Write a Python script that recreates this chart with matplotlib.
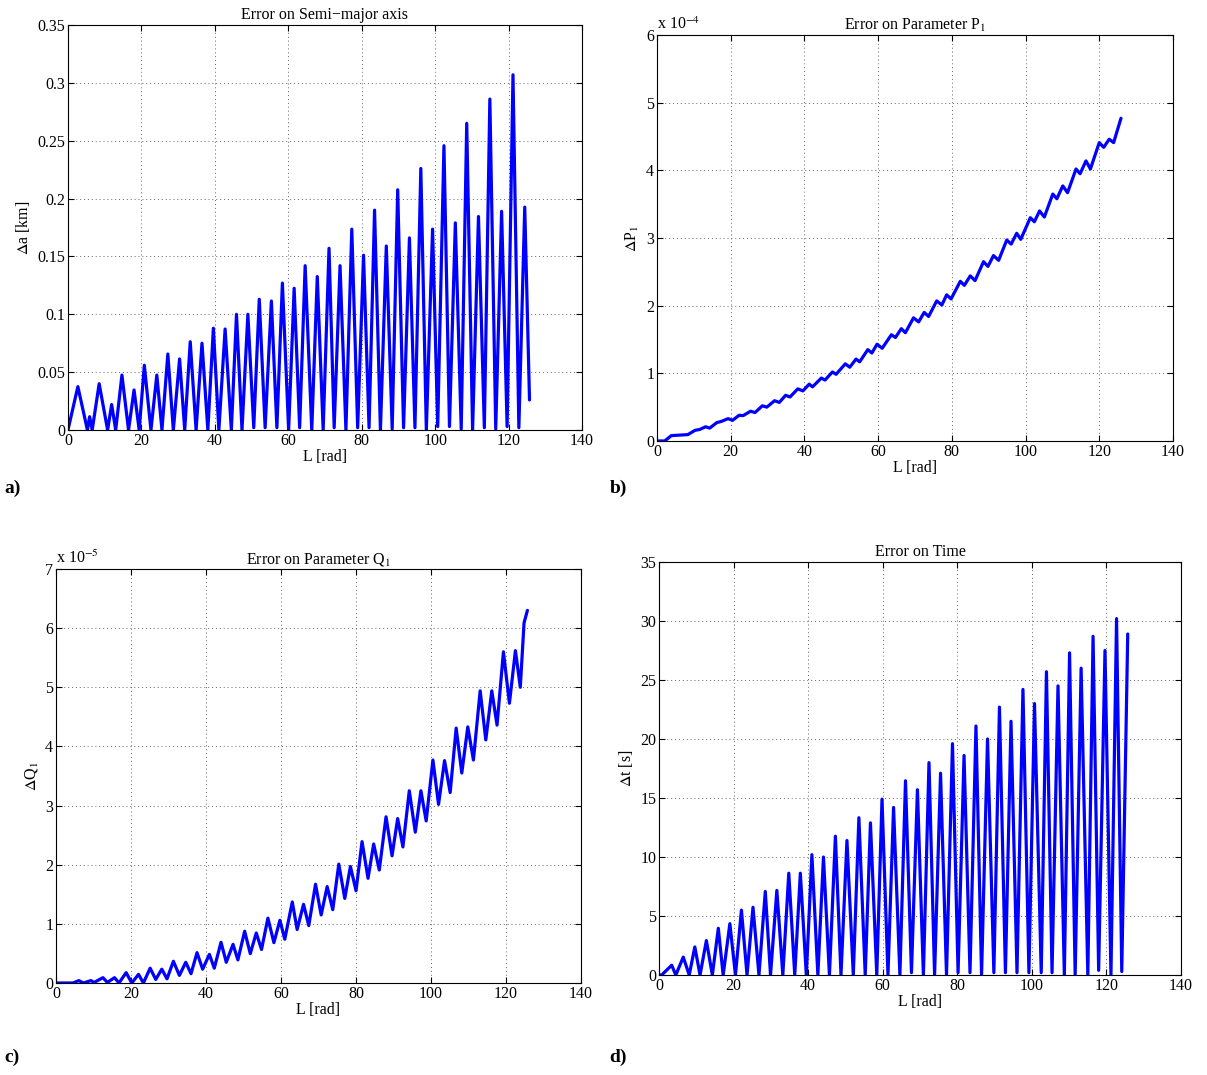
import numpy as np
import matplotlib
matplotlib.use("Agg")
import matplotlib.pyplot as plt
from matplotlib.ticker import FuncFormatter

plt.rcParams["font.family"] = ["Liberation Serif", "DejaVu Serif"]
plt.rcParams["mathtext.fontset"] = "stix"
plt.rcParams["font.size"] = 11.5

# a) error on semi-major axis [km], vertices (peaks / troughs)
a_L = [0, 2.7, 5.3, 5.9, 6.6, 8.5, 10.8, 11.9, 13.0, 14.7, 16.5, 18.0, 19.4, 20.8, 22.6,
       24.2, 25.6, 27.2, 28.7, 30.4, 31.8, 33.3, 34.9, 36.5, 38.1, 39.6, 41.1, 42.8, 44.5,
       45.9, 47.4, 49.0, 50.6, 52.1, 53.7, 55.4, 56.9, 58.4, 60.1, 61.6, 63.1, 64.6, 66.4,
       67.9, 69.5, 71.1, 72.5, 74.1, 75.7, 77.3, 78.9, 80.5, 82.0, 83.5, 85.1, 86.7, 88.3,
       89.8, 91.4, 93.0, 94.5, 96.1, 97.6, 99.3, 100.7, 102.4, 103.9, 105.5, 107.1, 108.6,
       110.2, 111.8, 113.4, 114.9, 116.5, 118.1, 119.6, 121.2, 122.8, 124.4, 125.7]
a_err = [0, 0.0375, 0, 0.0115, 0, 0.040, 0, 0.022, 0, 0.0475, 0, 0.0346, 0, 0.056, 0,
         0.0475, 0, 0.0657, 0, 0.0614, 0, 0.0763, 0, 0.075, 0, 0.088, 0, 0.0873, 0,
         0.100, 0, 0.100, 0.002, 0.113, 0.002, 0.1115, 0.002, 0.127, 0, 0.1225, 0.002, 0.142, 0,
         0.1326, 0, 0.157, 0.002, 0.142, 0, 0.1736, 0.002, 0.151, 0.002, 0.190, 0, 0.159, 0.001,
         0.2076, 0.002, 0.166, 0.002, 0.226, 0, 0.1736, 0.003, 0.2457, 0.003, 0.179, 0.001, 0.265,
         0, 0.1845, 0.002, 0.286, 0.001, 0.189, 0.003, 0.307, 0.002, 0.1926, 0.026]

# b) error on P1 (x 1e-4)
b_L = [0, 2.1, 3.9, 8.4, 10.3, 11.6, 13.2, 14.3, 16.2, 17.5, 19.3, 20.5, 22.3, 23.4, 25.4,
       26.6, 28.6, 29.8, 31.9, 33.2, 34.9, 36.1, 38.2, 39.6, 41.3, 42.2, 44.6, 45.6, 47.6,
       48.6, 51.1, 52.3, 54.0, 55.0, 57.2, 58.3, 59.7, 61.1, 63.6, 64.7, 66.3, 67.4, 69.6,
       71.0, 72.5, 73.7, 75.9, 77.3, 78.6, 79.8, 82.3, 83.4, 85.0, 86.3, 88.6, 89.8, 91.3,
       92.7, 94.9, 96.1, 97.6, 98.7, 101.3, 102.4, 103.8, 105.1, 107.4, 108.5, 110.1, 111.4,
       113.7, 114.8, 116.4, 117.6, 120.0, 121.2, 122.7, 123.9, 125.9]
b_err = [0, 0, 0.079, 0.094, 0.157, 0.17, 0.21, 0.19, 0.27, 0.29, 0.33, 0.305, 0.38, 0.375, 0.44,
         0.42, 0.52, 0.50, 0.595, 0.57, 0.675, 0.65, 0.77, 0.74, 0.84, 0.80, 0.93, 0.90, 1.02,
         0.985, 1.14, 1.09, 1.21, 1.17, 1.35, 1.30, 1.43, 1.37, 1.57, 1.53, 1.66, 1.60, 1.82,
         1.76, 1.90, 1.84, 2.07, 2.01, 2.16, 2.10, 2.36, 2.30, 2.44, 2.37, 2.65, 2.58, 2.74,
         2.67, 2.97, 2.91, 3.07, 2.98, 3.30, 3.24, 3.40, 3.31, 3.65, 3.58, 3.77, 3.67,
         4.02, 3.95, 4.14, 4.02, 4.41, 4.34, 4.46, 4.41, 4.77]

# c) error on Q1 (x 1e-5)
c_L = [0, 4.5, 6.1, 7.3, 9.3, 10.2, 12.5, 13.7, 15.6, 16.8, 18.7, 20.2, 22.0, 23.3, 25.1,
       26.6, 28.2, 29.6, 31.3, 32.9, 34.6, 36.0, 37.6, 39.1, 40.9, 42.2, 44.0, 45.4, 47.2,
       48.5, 50.3, 51.8, 53.4, 54.8, 56.5, 58.1, 59.7, 61.0, 63.0, 64.3, 66.0, 67.4, 69.2,
       70.7, 72.3, 73.8, 75.4, 77.0, 78.5, 80.0, 81.6, 83.2, 84.7, 86.2, 88.0, 89.6, 91.1,
       92.5, 94.2, 95.8, 97.3, 98.7, 100.5, 102.0, 103.6, 105.1, 106.7, 108.2, 109.8, 111.3,
       113.1, 114.6, 116.2, 117.6, 119.3, 120.9, 122.5, 123.8, 124.8, 125.7]
c_err = [0, 0, 0.04, 0, 0.04, 0.01, 0.09, 0.01, 0.09, 0, 0.175, 0, 0.146, 0, 0.25,
         0.06, 0.233, 0.07, 0.367, 0.128, 0.35, 0.157, 0.513, 0.233, 0.484, 0.25, 0.688, 0.35, 0.653,
         0.39, 0.875, 0.496, 0.845, 0.566, 1.096, 0.682, 1.06, 0.74, 1.37, 0.904, 1.33, 0.97, 1.67,
         1.15, 1.63, 1.24, 2.01, 1.43, 1.97, 1.56, 2.39, 1.77, 2.35, 1.91, 2.81, 2.15, 2.78,
         2.30, 3.25, 2.55, 3.25, 2.74, 3.77, 3.02, 3.76, 3.22, 4.31, 3.55, 4.33, 3.77,
         4.94, 4.11, 4.94, 4.36, 5.60, 4.73, 5.62, 5.00, 6.09, 6.30]

# d) error on time [s]
d_L = [0, 0.7, 3.4, 4.5, 6.5, 8.1, 9.6, 11.0, 12.7, 14.3, 15.9, 17.2, 19.0, 20.5, 22.1,
       23.6, 25.2, 26.8, 28.5, 29.9, 31.6, 33.2, 34.8, 36.4, 37.9, 39.5, 41.0, 42.6, 44.1,
       45.7, 47.3, 48.8, 50.4, 52.1, 53.6, 55.3, 56.7, 58.4, 59.8, 61.4, 62.9, 64.6, 66.1,
       67.7, 69.3, 70.9, 72.4, 73.9, 75.5, 77.1, 78.7, 80.2, 81.8, 83.4, 85.0, 86.5, 88.1,
       89.8, 91.3, 92.9, 94.4, 96.0, 97.6, 99.2, 100.7, 102.5, 103.9, 105.4, 107.0, 108.7,
       110.1, 111.6, 113.2, 115.0, 116.4, 117.9, 119.6, 121.2, 122.7, 124.1, 125.7]
d_err = [0, 0, 0.83, 0, 1.52, 0, 2.38, 0, 2.92, 0, 3.96, 0, 4.35, 0, 5.5,
         0, 5.74, 0, 7.08, 0, 7.17, 0, 8.63, 0, 8.63, 0, 10.2, 0, 10.0,
         0, 11.76, 0, 11.4, 0, 13.33, 0, 12.9, 0, 14.9, 0, 14.2, 0, 16.46,
         0.2, 15.7, 0, 18.0, 0, 17.1, 0, 19.6, 0.2, 18.6, 0.2, 21.1, 0, 20.0,
         0.2, 22.7, 0.2, 21.5, 0.2, 24.2, 0.2, 23.0, 0.2, 25.7, 0.2, 24.5, 0,
         27.3, 0, 26.0, 0, 28.7, 0.4, 27.5, 0, 30.2, 0.3, 28.9]

fig = plt.figure(figsize=(12.07, 10.75), dpi=100)

panels = [
    # rect, L, err, ymax, ystep, title, ylabel, exponent, tag, tag position
    ([0.0563, 0.600, 0.4259, 0.3767], a_L, a_err, 0.35, 0.05, "Error on Semi\u2212major axis",
     r"$\Delta$a [km]", None, "a)", (0.004, 0.546)),
    ([0.5443, 0.5898, 0.4275, 0.3776], b_L, b_err, 6, 1, r"Error on Parameter P$_1$",
     r"$\Delta$P$_1$", "-4", "b)", (0.505, 0.546)),
    ([0.0464, 0.0856, 0.4350, 0.3851], c_L, c_err, 7, 1, r"Error on Parameter Q$_1$",
     r"$\Delta$Q$_1$", "-5", "c)", (0.004, 0.016)),
    ([0.5460, 0.0930, 0.4325, 0.3842], d_L, d_err, 35, 5, "Error on Time",
     r"$\Delta$t [s]", None, "d)", (0.505, 0.016)),
]

for rect, L, err, ymax, ystep, title, ylab, expo, tag, tagpos in panels:
    ax = fig.add_axes(rect)
    ax.plot(L, err, color=(0, 0, 1), lw=2.3, solid_joinstyle="round", solid_capstyle="round")
    ax.set_xlim(0, 140)
    ax.set_ylim(0, ymax)
    ax.set_xticks(np.arange(0, 141, 20))
    ax.set_yticks(np.arange(0, ymax + ystep / 2, ystep))
    ax.yaxis.set_major_formatter(FuncFormatter(lambda v, p: "%g" % round(v, 4)))
    ax.grid(True, linestyle=(0, (1, 3)), color="0.4", lw=0.7)
    ax.tick_params(direction="in", top=True, right=True, length=4, width=0.8, pad=2)
    for s in ax.spines.values():
        s.set_linewidth(0.8)
    ax.set_title(title, fontsize=11.5, pad=4)
    ax.set_xlabel("L [rad]", labelpad=0)
    ax.set_ylabel(ylab, labelpad=4)
    if expo:
        ax.text(0.0, 1.005, r"x 10$^{%s}$" % expo.replace("-", "\u2212"), transform=ax.transAxes,
                ha="left", va="bottom", fontsize=11.5)
    fig.text(tagpos[0], tagpos[1], tag, fontsize=14, fontweight="bold", ha="left", va="center")

fig.savefig("out.png", dpi=100)
